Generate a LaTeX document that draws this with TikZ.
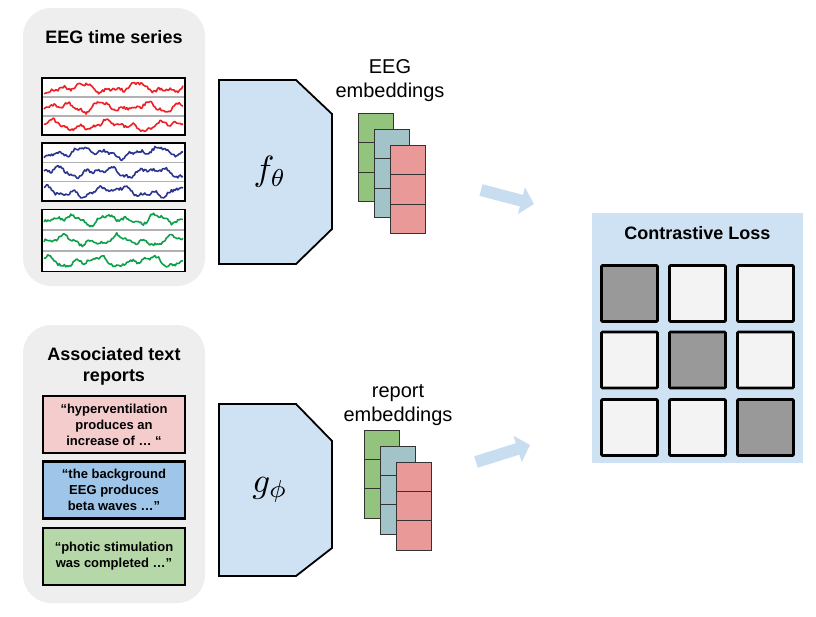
\documentclass[tikz,border=0pt]{standalone}
\usepackage{fontspec}
\setmainfont{Liberation Sans}
\usepackage{graphicx}
\usetikzlibrary{arrows.meta}
\definecolor{panelgray}{HTML}{EEEEEE}
\definecolor{encblue}{HTML}{CFE2F3}
\definecolor{arrblue}{HTML}{C9DDF0}
\definecolor{txtpink}{HTML}{F4CCCC}
\definecolor{txtblue}{HTML}{9FC5E8}
\definecolor{txtgreen}{HTML}{B6D7A8}
\definecolor{embgreen}{HTML}{93C47D}
\definecolor{embteal}{HTML}{A2C4C9}
\definecolor{embred}{HTML}{EA9999}
\definecolor{eegred}{HTML}{EE2027}
\definecolor{eegblue}{HTML}{2B3590}
\definecolor{eeggreen}{HTML}{0DA04B}
\definecolor{celldark}{HTML}{999999}
\definecolor{celllight}{HTML}{F3F3F3}
\newcommand\eegtrace[4]{%
  \draw[#2, line width=1.6pt, line join=round] plot[domain=0:1, samples=110, variable=\t]
    ({44+139*\t},{#1 + 3.2*sin(\t*#3+#4) + 2.2*sin(\t*1900+2*#4) + 1.3*sin(\t*3700+3*#4) + 1.4*rand});}
\tikzset{
  panel/.style={fill=panelgray, draw=none, rounded corners=28pt},
  title/.style={font=\bfseries\fontsize{18}{21}\selectfont, align=center},
  label/.style={font=\fontsize{20}{24}\selectfont, align=center},
  txtbox/.style={draw=black, line width=2.8pt, minimum width=142pt, minimum height=57pt, inner sep=0pt,
    align=center, font=\bfseries\fontsize{13}{16}\selectfont},
  eegbox/.style={draw=black, line width=1.3pt, fill=white, minimum width=143pt, inner sep=0pt},
  enc/.style={fill=encblue, draw=black, line width=1.8pt, line join=miter},
  emb/.style={draw=black!80, line width=1pt, minimum width=35pt, minimum height=29.5pt, inner sep=0pt},
  bigarrow/.style={arrblue, line width=12pt, -{Triangle[length=13pt, width=27pt]}},
  cell/.style={draw=black, line width=2.6pt, minimum width=56pt, minimum height=56pt, inner sep=0pt, rounded corners=1pt},
  enclabel/.style={inner sep=0pt},
}
\begin{document}
\begin{tikzpicture}[x=1pt, y=-1pt]
\pgfmathsetseed{4242}
\useasboundingbox (0,0) rectangle (816,616);
% gray panels
\node[panel, minimum width=182pt, minimum height=278pt] (toppanel) at (114,147) {};
\node[panel, minimum width=182pt, minimum height=278pt] (botpanel) at (114,464) {};
\node[title] (eegtitle) at (114,37) {EEG time series};
\node[title] (txttitle) at (114,366) {Associated text\\reports};
% EEG panels
\node[eegbox, minimum height=57pt] (redbox) at (113.5,106.5) {};
\node[eegbox, minimum height=58pt] (bluebox) at (113.5,172) {};
\node[eegbox, minimum height=62pt] (greenbox) at (113.5,240.5) {};
\foreach \a/\b in {78/135, 143/201, 209/272}{
  \pgfmathsetmacro\h{(\b-\a)/3}
  \draw[black!30, line width=1.6pt] (43,{\a+\h}) -- (184,{\a+\h});
  \draw[black!30, line width=1.6pt] (43,{\a+2*\h}) -- (184,{\a+2*\h});
}
\eegtrace{88}{eegred}{900}{30}
\eegtrace{107}{eegred}{1200}{120}
\eegtrace{125.5}{eegred}{800}{250}
\eegtrace{152.5}{eegblue}{700}{60}
\eegtrace{172}{eegblue}{1000}{200}
\eegtrace{191.5}{eegblue}{650}{300}
\eegtrace{219.5}{eeggreen}{1100}{90}
\eegtrace{240.5}{eeggreen}{850}{170}
\eegtrace{261.5}{eeggreen}{950}{280}
\node[eegbox, fill=none, minimum height=57pt] (redframe) at (113.5,106.5) {};
\node[eegbox, fill=none, minimum height=58pt] (blueframe) at (113.5,172) {};
\node[eegbox, fill=none, minimum height=62pt] (greenframe) at (113.5,240.5) {};
% text reports
\node[txtbox, fill=txtpink] (rep1) at (114,424.5) {``hyperventilation\\produces an\\increase of \dots\ ``};
\node[txtbox, fill=txtblue] (rep2) at (114,490) {``the background\\EEG produces\\beta waves \dots''};
\node[txtbox, fill=txtgreen] (rep3) at (114,556.5) {``photic stimulation\\was completed \dots''};
% encoders
\draw[enc] (219,80) -- (296,80) -- (332,114) -- (332,229) -- (296,264) -- (219,264) -- cycle;
\node[enclabel] (fenc) at (270,172) {\scalebox{3.5}{$f_\theta$}};
\draw[enc] (219,404) -- (296,404) -- (332,441) -- (332,548) -- (296,576) -- (219,576) -- cycle;
\node[enclabel] (genc) at (270,490) {\scalebox{3.5}{$g_\phi$}};
% embedding labels
\node[label] (eeglab) at (390,81) {EEG\\embeddings};
\node[label] (replab) at (398,405) {report\\embeddings};
% EEG embeddings
\foreach \c/\x/\y in {embgreen/375.5/113, embteal/391.5/129, embred/407.5/145}{
  \foreach \i in {0,1,2}{
    \node[emb, fill=\c] (e-\c-\i) at (\x,{\y+14.75+29.5*\i}) {};
  }
}
% report embeddings
\foreach \c/\x/\y in {embgreen/382/431, embteal/398/447, embred/414/463}{
  \foreach \i in {0,1,2}{
    \node[emb, fill=\c] (r-\c-\i) at (\x,{\y+14.5+29*\i}) {};
  }
}
% arrows
\coordinate (a1s) at (481,190);
\coordinate (a1e) at (534,204);
\coordinate (a2s) at (476,462);
\coordinate (a2e) at (530,445);
\draw[bigarrow] (a1s) -- (a1e);
\draw[bigarrow] (a2s) -- (a2e);
% contrastive loss
\node[fill=encblue, minimum width=211pt, minimum height=250pt, inner sep=0pt] (loss) at (697.5,338) {};
\node[title] (losstitle) at (697.5,233) {Contrastive Loss};
\foreach \r/\yy in {1/293.5, 2/360, 3/427.5}{
  \foreach \c/\xx in {1/629.5, 2/697.5, 3/765.5}{
    \ifnum\r=\c
      \node[cell, fill=celldark] (c\r\c) at (\xx,\yy) {};
    \else
      \node[cell, fill=celllight] (c\r\c) at (\xx,\yy) {};
    \fi
  }
}
\end{tikzpicture}
\end{document}
